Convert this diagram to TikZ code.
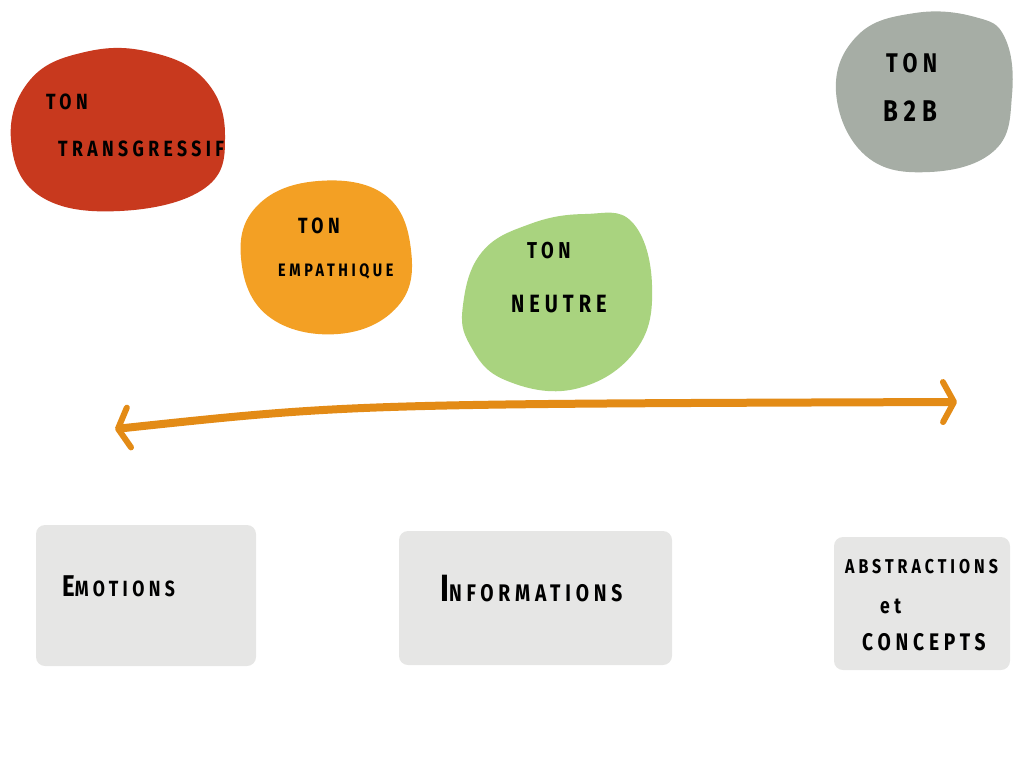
\documentclass[tikz,border=0pt]{standalone}
\usepackage{fontspec}
\usetikzlibrary{arrows.meta}
\newfontfamily\hand[FakeStretch=0.8,LetterSpace=20]{Fira Sans}
\definecolor{cred}{HTML}{C8391E}
\definecolor{cgrey}{HTML}{A6ADA5}
\definecolor{corange}{HTML}{F3A024}
\definecolor{cgreen}{HTML}{A9D37F}
\definecolor{carrow}{HTML}{E38B16}
\definecolor{cbox}{HTML}{E6E6E5}
\newcommand{\fs}[1]{\fontsize{#1}{#1}\selectfont}
\tikzset{
  lbl/.style={anchor=base west,inner sep=0pt,font=\hand\bfseries\fs{22},text=black},
  card/.style={fill=cbox,draw=none,rounded corners=9pt},
  axis/.style={draw=carrow,line width=8pt,line cap=round,
    arrows={Straight Barb[length=11pt,width=40pt,line width=6pt,round]-Straight Barb[length=11pt,width=40pt,line width=6pt,round]}}
}
\begin{document}
\begin{tikzpicture}[x=1pt,y=-1pt]
\useasboundingbox (0,0) rectangle (1024,768);
% blobs
\fill[cred] plot[smooth cycle,tension=0.7] coordinates{(11,140) (30,80) (85,52) (150,52) (205,80) (225,135) (205,188) (120,211) (40,196)};
\fill[cgrey] plot[smooth cycle,tension=0.7] coordinates{(836,92) (858,35) (915,13) (975,17) (1005,38) (1012,95) (995,150) (930,172) (866,156)};
\fill[corange] plot[smooth cycle,tension=0.7] coordinates{(241,258) (258,205) (318,181) (385,195) (411,250) (398,306) (338,334) (268,316)};
\fill[cgreen] plot[smooth cycle,tension=0.7] coordinates{(463,305) (482,252) (530,224) (585,214) (632,222) (652,285) (636,350) (575,389) (505,380) (470,345)};
% texts in blobs
\node[lbl] (t1a) at (46,109) {TON};
\node[lbl] (t1b) at (58,156) {TRANSGRESSIF};
\node[lbl,font=\hand\bfseries\fs{27}] (t4a) at (886,72) {TON};
\node[lbl,font=\hand\bfseries\fs{30}] (t4b) at (883,121) {B2B};
\node[lbl] (t2a) at (298,233) {TON};
\node[lbl,font=\hand\bfseries\fs{18}] (t2b) at (278,276) {EMPATHIQUE};
\node[lbl,font=\hand\bfseries\fs{23}] (t3a) at (527,258) {TON};
\node[lbl,font=\hand\bfseries\fs{25}] (t3b) at (511,312) {NEUTRE};
% axis
\coordinate (aL) at (115,429);
\coordinate (aR) at (957,402);
\draw[axis] (aL) .. controls (350,404) .. (aR);
% cards
\fill[card] (36,525) rectangle (256,666);
\fill[card] (399,531) rectangle (672,665);
\fill[card] (834,537) rectangle (1010,670);
\node[lbl] (c1) at (62,596) {{\fs{30}E}MOTIONS};
\node[lbl,font=\hand\bfseries\fs{24}] (c2) at (440,601) {{\fs{38}I}NFORMATIONS};
\node[lbl,font=\hand\bfseries\fs{20}] (c3a) at (845,573) {ABSTRACTIONS};
\node[lbl,font=\hand\bfseries\fs{22}] (c3b) at (880,613) {et};
\node[lbl,font=\hand\bfseries\fs{24}] (c3c) at (862,650) {CONCEPTS};
\end{tikzpicture}
\end{document}
